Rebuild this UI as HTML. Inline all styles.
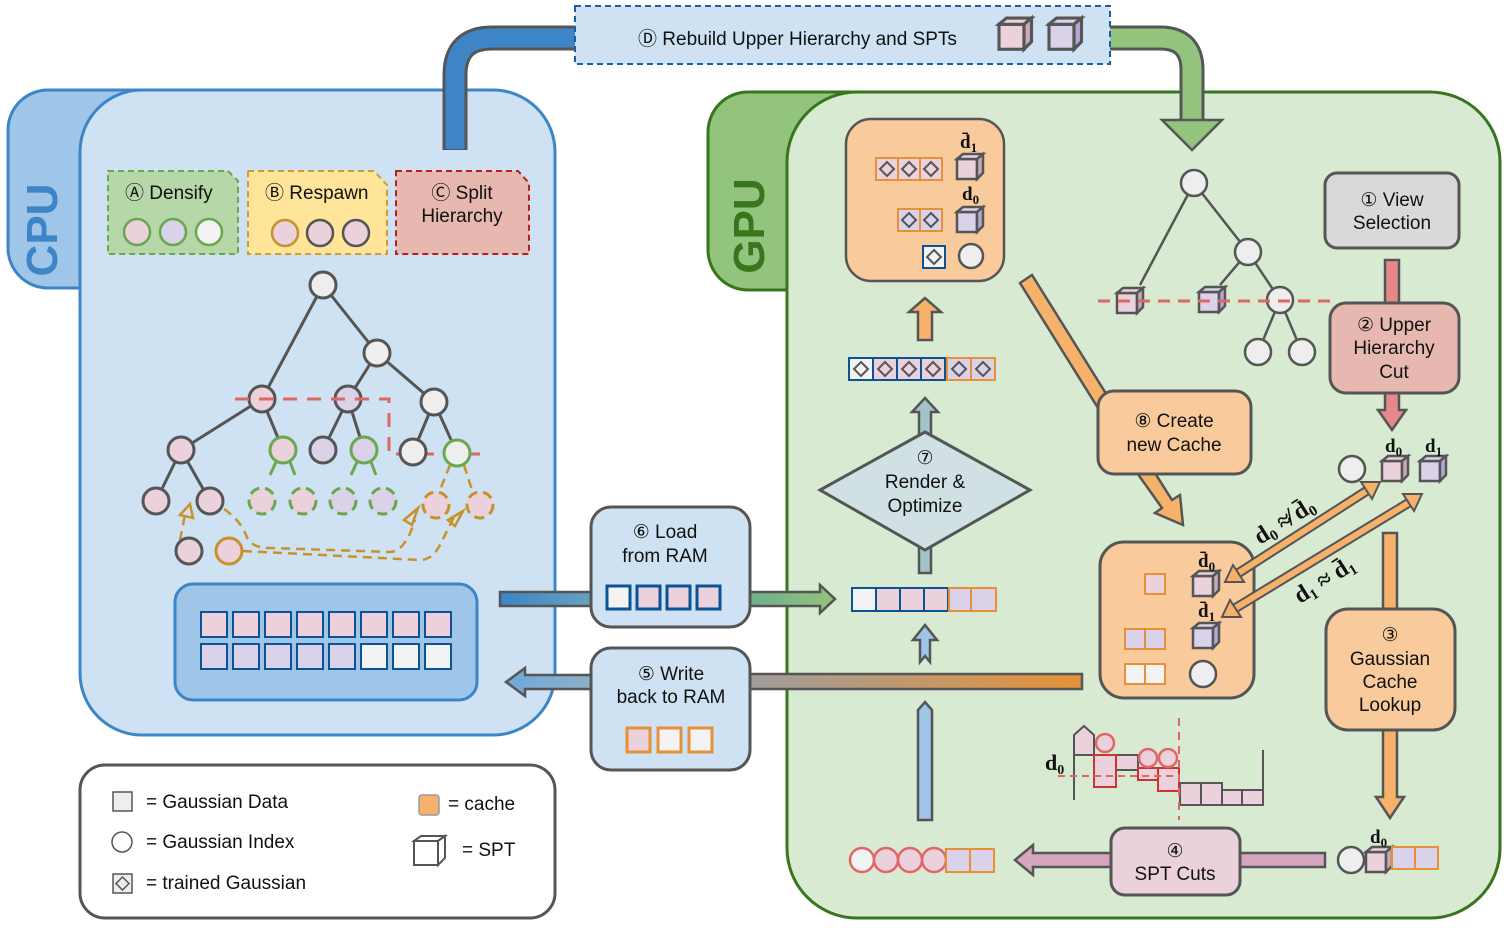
<!DOCTYPE html>
<html><head><meta charset="utf-8"><style>
html,body{margin:0;padding:0;background:#fff}
svg{display:block}
text{font-family:"Liberation Sans",sans-serif;font-size:19px;fill:#111}
.m{font-family:"Liberation Serif",serif;font-weight:bold;font-size:19px}
</style></head><body>
<svg width="1507" height="928" viewBox="0 0 1507 928" xmlns="http://www.w3.org/2000/svg">
<defs>
<g id="cp"><rect x="0" y="5" width="20" height="20" fill="#ead1dc" stroke="#555" stroke-width="2.5"/><polygon points="0,5 6,0 26,0 20,5" fill="#ead1dc" stroke="#555" stroke-width="2.5"/><polygon points="20,5 26,0 26,19 20,25" fill="#c9a9b8" stroke="#555" stroke-width="2.5"/></g>
<g id="cl"><rect x="0" y="5" width="20" height="20" fill="#d9d2e9" stroke="#555" stroke-width="2.5"/><polygon points="0,5 6,0 26,0 20,5" fill="#d9d2e9" stroke="#555" stroke-width="2.5"/><polygon points="20,5 26,0 26,19 20,25" fill="#b4a7d6" stroke="#555" stroke-width="2.5"/></g>
<g id="cw"><rect x="0" y="5" width="24" height="24" fill="#fff" stroke="#555" stroke-width="2"/><polygon points="0,5 7,0 31,0 24,5" fill="#fff" stroke="#555" stroke-width="2"/><polygon points="24,5 31,0 31,22 24,29" fill="#fff" stroke="#555" stroke-width="2"/></g>
<linearGradient id="g1" x1="0" x2="1"><stop offset="0" stop-color="#3d85c6"/><stop offset="1" stop-color="#6aa1c0"/></linearGradient>
<linearGradient id="g2" x1="0" x2="1"><stop offset="0" stop-color="#6fae8a"/><stop offset="1" stop-color="#93c47d"/></linearGradient>
<linearGradient id="g3" x1="0" x2="1"><stop offset="0" stop-color="#9e9e9e"/><stop offset="1" stop-color="#e69138"/></linearGradient>
<linearGradient id="g4" x1="0" x2="1"><stop offset="0" stop-color="#6fa8dc"/><stop offset="1" stop-color="#8fb0c8"/></linearGradient>
</defs>

<!-- CPU -->
<rect x="8" y="90" width="200" height="198" rx="40" fill="#9fc5e8" stroke="#3d85c6" stroke-width="3"/>
<rect x="80" y="90" width="475" height="645" rx="62" fill="#cfe2f3" stroke="#3d85c6" stroke-width="3"/>
<text x="0" y="0" transform="translate(57,230) rotate(-90)" text-anchor="middle" style="font-size:44px;font-weight:bold;fill:#3d85c6">CPU</text>

<!-- GPU -->
<rect x="708" y="92" width="200" height="198" rx="40" fill="#93c47d" stroke="#38761d" stroke-width="3"/>
<rect x="787" y="92" width="713" height="826" rx="70" fill="#d9ead3" stroke="#38761d" stroke-width="3"/>
<text x="0" y="0" transform="translate(764,226) rotate(-90)" text-anchor="middle" style="font-size:44px;font-weight:bold;fill:#38761d">GPU</text>

<!-- blue pipe -->
<path d="M455,150 V75 Q455,38 492,38 H578" fill="none" stroke="#555" stroke-width="25"/>
<path d="M455,149 V75 Q455,38 492,38 H578" fill="none" stroke="#3d85c6" stroke-width="19"/>
<!-- green pipe -->
<path d="M1108,38 H1160 Q1192,38 1192,70 V122" fill="none" stroke="#555" stroke-width="25"/>
<path d="M1108,38 H1160 Q1192,38 1192,70 V124" fill="none" stroke="#93c47d" stroke-width="19"/>
<polygon points="1162,120 1222,120 1192,150" fill="#93c47d" stroke="#555" stroke-width="2.5"/>

<!-- D box -->
<rect x="575" y="6" width="535" height="58" fill="#cfe2f3" stroke="#1c5fa0" stroke-width="2" stroke-dasharray="6,4"/>
<text x="638" y="45">Ⓓ Rebuild Upper Hierarchy and SPTs</text>
<g transform="translate(999,18) scale(1.25)"><use href="#cp"/></g>
<g transform="translate(1049,18) scale(1.25)"><use href="#cl"/></g>

<!-- A B C boxes -->
<path d="M108,171 H228 L238,181 V254 H108 Z" fill="#b6d7a8" stroke="#6aa84f" stroke-width="2" stroke-dasharray="6,4"/>
<text x="125" y="199">Ⓐ Densify</text>
<circle cx="137" cy="232" r="13" fill="#ead1dc" stroke="#6aa84f" stroke-width="2.5"/>
<circle cx="173" cy="232" r="13" fill="#d9d2e9" stroke="#6aa84f" stroke-width="2.5"/>
<circle cx="209" cy="232" r="13" fill="#f3f3f3" stroke="#6aa84f" stroke-width="2.5"/>
<path d="M248,171 H374 L387,185 V254 H248 Z" fill="#ffe599" stroke="#d19c2a" stroke-width="2" stroke-dasharray="6,4"/>
<text x="265" y="199">Ⓑ Respawn</text>
<circle cx="285" cy="233" r="13" fill="#ead1dc" stroke="#c9912a" stroke-width="2.5"/>
<circle cx="320" cy="233" r="13" fill="#ead1dc" stroke="#555" stroke-width="2.5"/>
<circle cx="356" cy="233" r="13" fill="#ead1dc" stroke="#555" stroke-width="2.5"/>
<path d="M396,171 H518 L529,183 V254 H396 Z" fill="#e6b8af" stroke="#b32020" stroke-width="2" stroke-dasharray="6,4"/>
<text x="462" y="199" text-anchor="middle">Ⓒ Split</text>
<text x="462" y="222" text-anchor="middle">Hierarchy</text>

<!-- CPU tree -->
<g stroke="#555" stroke-width="3" fill="none">
<path d="M323,285 L262,399 M323,285 L377,353 M377,353 L348,399 M377,353 L434,402 M262,399 L181,450 M262,399 L283,450 M348,399 L323,450 M348,399 L364,450 M434,402 L413,452 M434,402 L457,453 M181,450 L156,501 M181,450 L210,501"/>
</g>
<g stroke="#6aa84f" stroke-width="3" fill="none"><path d="M276,462 L270,475 M290,462 L295,475 M357,462 L351,475 M371,462 L376,475"/></g>
<g stroke="#c9912a" stroke-width="2.5" fill="none" stroke-dasharray="9,6">
<path d="M450,465 L440,490 M464,465 L472,490"/>
<path d="M224,509 Q240,520 246,535 Q250,548 270,548 L390,552 Q405,552 415,520"/>
<path d="M243,551 L420,560 Q432,560 440,545 L455,515"/>
<path d="M180,540 L185,515"/>
</g>
<polygon points="180,515 190,504 193,518" fill="none" stroke="#c9912a" stroke-width="2.5"/>
<polygon points="404,520 418,508 412,525" fill="none" stroke="#c9912a" stroke-width="2.5"/>
<polygon points="448,520 463,511 455,526" fill="none" stroke="#c9912a" stroke-width="2.5"/>
<path d="M235,399 H366 L389,399 V454 H480" fill="none" stroke="#e06666" stroke-width="3" stroke-dasharray="14,10"/>
<g stroke-width="3">
<circle cx="323" cy="285" r="13" fill="#eee" stroke="#555"/>
<circle cx="377" cy="353" r="13" fill="#eee" stroke="#555"/>
<circle cx="262" cy="399" r="13" fill="#ead1dc" stroke="#555"/>
<circle cx="348" cy="399" r="13" fill="#d9d2e9" stroke="#555"/>
<circle cx="434" cy="402" r="13" fill="#eee" stroke="#555"/>
<circle cx="181" cy="450" r="13" fill="#ead1dc" stroke="#555"/>
<circle cx="283" cy="450" r="13" fill="#ead1dc" stroke="#6aa84f"/>
<circle cx="323" cy="450" r="13" fill="#d9d2e9" stroke="#555"/>
<circle cx="364" cy="450" r="13" fill="#d9d2e9" stroke="#6aa84f"/>
<circle cx="413" cy="452" r="13" fill="#eee" stroke="#555"/>
<circle cx="457" cy="453" r="13" fill="#eee" stroke="#6aa84f"/>
<circle cx="156" cy="501" r="13" fill="#ead1dc" stroke="#555"/>
<circle cx="210" cy="501" r="13" fill="#ead1dc" stroke="#555"/>
<circle cx="262" cy="501" r="13" fill="#ead1dc" stroke="#6aa84f" stroke-dasharray="10,6"/>
<circle cx="303" cy="501" r="13" fill="#ead1dc" stroke="#6aa84f" stroke-dasharray="10,6"/>
<circle cx="343" cy="501" r="13" fill="#d9d2e9" stroke="#6aa84f" stroke-dasharray="10,6"/>
<circle cx="383" cy="501" r="13" fill="#d9d2e9" stroke="#6aa84f" stroke-dasharray="10,6"/>
<circle cx="436" cy="505" r="13" fill="#ead1dc" stroke="#c9912a" stroke-dasharray="10,6"/>
<circle cx="480" cy="505" r="13" fill="#ead1dc" stroke="#c9912a" stroke-dasharray="10,6"/>
<circle cx="189" cy="551" r="13" fill="#ead1dc" stroke="#555"/>
<circle cx="229" cy="551" r="13" fill="#ead1dc" stroke="#c9912a"/>
</g>
<path d="M235,399 H366" fill="none" stroke="#e06666" stroke-width="3" stroke-dasharray="14,10"/>

<!-- CPU memory -->
<rect x="175" y="584" width="302" height="116" rx="18" fill="#9fc5e8" stroke="#3d85c6" stroke-width="3"/>
<g stroke="#0b5394" stroke-width="2">
<rect x="201" y="612" width="26" height="25" fill="#ead1dc"/><rect x="233" y="612" width="26" height="25" fill="#ead1dc"/><rect x="265" y="612" width="26" height="25" fill="#ead1dc"/><rect x="297" y="612" width="26" height="25" fill="#ead1dc"/><rect x="329" y="612" width="26" height="25" fill="#ead1dc"/><rect x="361" y="612" width="26" height="25" fill="#ead1dc"/><rect x="393" y="612" width="26" height="25" fill="#ead1dc"/><rect x="425" y="612" width="26" height="25" fill="#ead1dc"/>
<rect x="201" y="644" width="26" height="25" fill="#d9d2e9"/><rect x="233" y="644" width="26" height="25" fill="#d9d2e9"/><rect x="265" y="644" width="26" height="25" fill="#d9d2e9"/><rect x="297" y="644" width="26" height="25" fill="#d9d2e9"/><rect x="329" y="644" width="26" height="25" fill="#d9d2e9"/><rect x="361" y="644" width="26" height="25" fill="#f3f3f3"/><rect x="393" y="644" width="26" height="25" fill="#f3f3f3"/><rect x="425" y="644" width="26" height="25" fill="#f3f3f3"/>
</g>

<!-- Load / write -->
<rect x="500" y="592" width="95" height="14" fill="url(#g1)" stroke="#555" stroke-width="2.5"/>
<path d="M748,592 H820 V585 L835,599 L820,613 V606 H748 Z" fill="url(#g2)" stroke="#555" stroke-width="2.5"/>
<rect x="745" y="674" width="337" height="15" fill="url(#g3)" stroke="#555" stroke-width="2.5"/>
<path d="M595,675 H525 V668 L506,682 L525,696 V689 H595 Z" fill="url(#g4)" stroke="#555" stroke-width="2.5"/>
<rect x="591" y="507" width="159" height="120" rx="20" fill="#cfe2f3" stroke="#555" stroke-width="3"/>
<text x="665" y="538" text-anchor="middle">⑥ Load</text>
<text x="665" y="562" text-anchor="middle">from RAM</text>
<g stroke="#0b5394" stroke-width="3"><rect x="607" y="586" width="23" height="23" fill="#f3f3f3"/><rect x="637" y="586" width="23" height="23" fill="#ead1dc"/><rect x="667" y="586" width="23" height="23" fill="#ead1dc"/><rect x="697" y="586" width="23" height="23" fill="#ead1dc"/></g>
<rect x="591" y="648" width="159" height="122" rx="20" fill="#cfe2f3" stroke="#555" stroke-width="3"/>
<text x="671" y="680" text-anchor="middle">⑤ Write</text>
<text x="671" y="703" text-anchor="middle">back to RAM</text>
<g stroke="#e69138" stroke-width="3"><rect x="627" y="728" width="23" height="24" fill="#ead1dc"/><rect x="658" y="728" width="23" height="24" fill="#f3f3f3"/><rect x="689" y="728" width="23" height="24" fill="#f3f3f3"/></g>

<!-- legend -->
<rect x="80" y="765" width="475" height="153" rx="25" fill="#fff" stroke="#555" stroke-width="3"/>
<rect x="113" y="792" width="19" height="19" fill="#eee" stroke="#555" stroke-width="1.5"/>
<text x="146" y="808">= Gaussian Data</text>
<circle cx="122" cy="842" r="10" fill="#fff" stroke="#555" stroke-width="1.5"/>
<text x="146" y="848">= Gaussian Index</text>
<rect x="113" y="874" width="19" height="19" fill="#eee" stroke="#555" stroke-width="1.5"/>
<polygon points="122.5,877 129,883.5 122.5,890 116,883.5" fill="none" stroke="#555" stroke-width="1.5"/>
<text x="146" y="889">= trained Gaussian</text>
<rect x="419" y="795" width="20" height="20" rx="3" fill="#f6b26b" stroke="#999" stroke-width="1.5"/>
<text x="448" y="810">= cache</text>
<use href="#cw" x="414" y="836"/>
<text x="462" y="856">= SPT</text>

<!-- GPU top cache box -->
<rect x="846" y="119" width="158" height="162" rx="25" fill="#f9cb9c" stroke="#555" stroke-width="2.5"/>
<text class="m" x="960" y="148">d̄<tspan font-size="13" dy="4">1</tspan></text>
<g stroke="#e69138" stroke-width="2"><rect x="876" y="158" width="22" height="22" fill="#ead1dc"/><rect x="898" y="158" width="22" height="22" fill="#ead1dc"/><rect x="920" y="158" width="22" height="22" fill="#ead1dc"/>
<rect x="898" y="209" width="22" height="22" fill="#d9d2e9"/><rect x="920" y="209" width="22" height="22" fill="#d9d2e9"/></g>
<rect x="923" y="246" width="22" height="22" fill="#f3f3f3" stroke="#0b5394" stroke-width="2"/>
<g fill="none" stroke="#555" stroke-width="2"><polygon points="887,162 894,169 887,176 880,169"/><polygon points="909,162 916,169 909,176 902,169"/><polygon points="931,162 938,169 931,176 924,169"/><polygon points="909,213 916,220 909,227 902,220"/><polygon points="931,213 938,220 931,227 924,220"/><polygon points="934,250 941,257 934,264 927,257"/></g>
<use href="#cp" x="957" y="154"/>
<text class="m" x="962" y="200">d<tspan font-size="13" dy="4">0</tspan></text>
<use href="#cl" x="957" y="207"/>
<circle cx="971" cy="256" r="12" fill="#eee" stroke="#555" stroke-width="2.5"/>

<!-- orange up arrow -->
<path d="M918,340 V312 H909 L925,298 L941,312 H932 V340 Z" fill="#f6b26b" stroke="#555" stroke-width="2.5"/>
<!-- array 2 -->
<g stroke-width="2"><rect x="849" y="358" width="24" height="22" fill="#f3f3f3" stroke="#0b5394"/><rect x="873" y="358" width="24" height="22" fill="#ead1dc" stroke="#0b5394"/><rect x="897" y="358" width="24" height="22" fill="#ead1dc" stroke="#0b5394"/><rect x="921" y="358" width="24" height="22" fill="#ead1dc" stroke="#0b5394"/><rect x="947" y="358" width="24" height="22" fill="#d9d2e9" stroke="#e69138"/><rect x="971" y="358" width="24" height="22" fill="#d9d2e9" stroke="#e69138"/></g>
<g fill="none" stroke="#555" stroke-width="2"><polygon points="861,362 868,369 861,376 854,369"/><polygon points="885,362 892,369 885,376 878,369"/><polygon points="909,362 916,369 909,376 902,369"/><polygon points="933,362 940,369 933,376 926,369"/><polygon points="959,362 966,369 959,376 952,369"/><polygon points="983,362 990,369 983,376 976,369"/></g>
<!-- teal arrow -->
<path d="M919,440 V412 H912 L925,398 L938,412 H931 V440 Z" fill="#a2c4c9" stroke="#555" stroke-width="2.5"/>
<rect x="919" y="545" width="12" height="28" fill="#a2c4c9" stroke="#555" stroke-width="2.5"/>
<polygon points="925,432 1030,490 925,550 820,490" fill="#d0e0e3" stroke="#555" stroke-width="3"/>
<text x="925" y="464" text-anchor="middle">⑦</text>
<text x="925" y="488" text-anchor="middle">Render &amp;</text>
<text x="925" y="512" text-anchor="middle">Optimize</text>
<!-- array 3 -->
<g stroke-width="2"><rect x="852" y="588" width="24" height="23" fill="#f3f3f3" stroke="#0b5394"/><rect x="876" y="588" width="24" height="23" fill="#ead1dc" stroke="#0b5394"/><rect x="900" y="588" width="24" height="23" fill="#ead1dc" stroke="#0b5394"/><rect x="924" y="588" width="24" height="23" fill="#ead1dc" stroke="#0b5394"/><rect x="949" y="588" width="22" height="23" fill="#d9d2e9" stroke="#e69138"/><rect x="971" y="588" width="25" height="23" fill="#d9d2e9" stroke="#e69138"/></g>
<path d="M920,662 V640 H913 L925,625 L937,640 H930 V662 L925,656 Z" fill="#9fc5e8" stroke="#555" stroke-width="2.5"/>
<path d="M918,820 V710 L925,702 L932,710 V820 Z" fill="#9fc5e8" stroke="#555" stroke-width="2.5"/>
<!-- bottom circles row -->
<g stroke="#e06666" stroke-width="2.5"><circle cx="862" cy="860" r="12" fill="#f3f3f3"/><circle cx="886" cy="860" r="12" fill="#ead1dc"/><circle cx="910" cy="860" r="12" fill="#ead1dc"/><circle cx="934" cy="860" r="12" fill="#ead1dc"/></g>
<g stroke="#e69138" stroke-width="2"><rect x="946" y="849" width="24" height="23" fill="#d9d2e9"/><rect x="970" y="849" width="24" height="23" fill="#d9d2e9"/></g>
<path d="M1115,853 H1033 V845 L1015,860 L1033,875 V867 H1115 Z" fill="#d5a6bd" stroke="#555" stroke-width="2.5"/>
<rect x="1236" y="853" width="89" height="14" fill="#d5a6bd" stroke="#555" stroke-width="2.5"/>
<rect x="1111" y="828" width="129" height="67" rx="14" fill="#ead1dc" stroke="#555" stroke-width="3"/>
<text x="1175" y="857" text-anchor="middle">④</text>
<text x="1175" y="880" text-anchor="middle">SPT Cuts</text>
<circle cx="1351" cy="860" r="13" fill="#eee" stroke="#555" stroke-width="2.5"/>
<use href="#cp" x="1366" y="847"/>
<text class="m" x="1370" y="843">d<tspan font-size="13" dy="4">0</tspan></text>
<g stroke="#e69138" stroke-width="2"><rect x="1392" y="847" width="23" height="22" fill="#d9d2e9"/><rect x="1415" y="847" width="23" height="22" fill="#d9d2e9"/></g>

<!-- histogram -->
<g stroke="#555" stroke-width="2" fill="#ead1dc">
<path d="M1074,800 V735 L1084,726 L1094,735 V755 H1074" />
<rect x="1116" y="755" width="22" height="15"/>
<rect x="1180" y="783" width="21" height="22"/><rect x="1201" y="783" width="21" height="22"/><rect x="1222" y="790" width="20" height="15"/><rect x="1242" y="790" width="21" height="15"/>
<path d="M1263,750 V805" fill="none"/>
</g>
<g stroke="#cc3333" stroke-width="2" fill="#ead1dc"><rect x="1094" y="755" width="22" height="32"/><rect x="1138" y="768" width="20" height="12"/><rect x="1158" y="768" width="21" height="23"/></g>
<g stroke="#e06666" stroke-width="2.5" fill="#ead1dc"><circle cx="1105" cy="743" r="9"/><circle cx="1148" cy="758" r="9"/><circle cx="1168" cy="758" r="9"/></g>
<path d="M1058,776 H1180" stroke="#e06666" stroke-width="2" stroke-dasharray="7,5"/>
<path d="M1179,718 V820" stroke="#e06666" stroke-width="2" stroke-dasharray="8,6"/>
<text class="m" x="1045" y="770" style="font-size:22px">d<tspan font-size="14" dy="4">0</tspan></text>

<!-- Gaussian Cache Lookup -->
<rect x="1383" y="533" width="14" height="80" fill="#f6b26b" stroke="#555" stroke-width="2.5"/>
<path d="M1383,726 V797 H1376 L1390,818 L1404,797 H1397 V726 Z" fill="#f6b26b" stroke="#555" stroke-width="2.5"/>
<rect x="1326" y="609" width="129" height="121" rx="22" fill="#f9cb9c" stroke="#555" stroke-width="3"/>
<text x="1390" y="641" text-anchor="middle">③</text>
<text x="1390" y="665" text-anchor="middle">Gaussian</text>
<text x="1390" y="688" text-anchor="middle">Cache</text>
<text x="1390" y="711" text-anchor="middle">Lookup</text>

<!-- View selection / upper -->
<rect x="1385" y="260" width="14" height="46" fill="#e6888a" stroke="#555" stroke-width="2.5"/>
<path d="M1385,390 V410 H1378 L1392,430 L1406,410 H1399 V390 Z" fill="#e6888a" stroke="#555" stroke-width="2.5"/>
<rect x="1325" y="173" width="134" height="75" rx="12" fill="#d9d9d9" stroke="#555" stroke-width="3"/>
<text x="1392" y="206" text-anchor="middle">① View</text>
<text x="1392" y="229" text-anchor="middle">Selection</text>
<rect x="1330" y="303" width="129" height="90" rx="16" fill="#e6b8af" stroke="#555" stroke-width="3"/>
<text x="1394" y="331" text-anchor="middle">② Upper</text>
<text x="1394" y="354" text-anchor="middle">Hierarchy</text>
<text x="1394" y="378" text-anchor="middle">Cut</text>

<!-- GPU tree -->
<g stroke="#555" stroke-width="2.5"><path d="M1194,183 L1140,285 M1194,183 L1248,252 M1248,252 L1220,285 M1248,252 L1280,300 M1280,300 L1258,352 M1280,300 L1302,352"/></g>
<use href="#cp" x="1117" y="288"/>
<use href="#cl" x="1199" y="287"/>
<g stroke="#555" stroke-width="2.5" fill="#eee"><circle cx="1194" cy="183" r="13"/><circle cx="1248" cy="252" r="13"/><circle cx="1280" cy="300" r="13"/><circle cx="1258" cy="352" r="13"/><circle cx="1302" cy="352" r="13"/></g>
<path d="M1098,301 H1335" stroke="#e06666" stroke-width="3" stroke-dasharray="12,8"/>

<!-- right top items -->
<circle cx="1352" cy="469" r="13" fill="#eee" stroke="#555" stroke-width="2.5"/>
<use href="#cp" x="1382" y="456"/>
<use href="#cl" x="1420" y="456"/>
<text class="m" x="1385" y="452">d<tspan font-size="13" dy="4">0</tspan></text>
<text class="m" x="1425" y="452">d<tspan font-size="13" dy="4">1</tspan></text>

<!-- Create new cache -->
<path d="M1020,283 L1032,275 L1110,400 L1098,408 Z" fill="#f6b26b" stroke="#555" stroke-width="2.5"/>
<path d="M1135,470 L1148,462 L1172,500 L1180,495 L1183,525 L1155,513 L1162,508 Z" fill="#f6b26b" stroke="#555" stroke-width="2.5"/>
<rect x="1098" y="391" width="153" height="83" rx="16" fill="#f9cb9c" stroke="#555" stroke-width="3"/>
<text x="1174" y="427" text-anchor="middle">⑧ Create</text>
<text x="1174" y="451" text-anchor="middle">new Cache</text>

<!-- cache box -->
<rect x="1100" y="542" width="154" height="156" rx="24" fill="#f9cb9c" stroke="#555" stroke-width="3"/>
<rect x="1145" y="574" width="20" height="20" fill="#ead1dc" stroke="#e69138" stroke-width="2"/>
<g stroke="#e69138" stroke-width="2"><rect x="1125" y="629" width="20" height="20" fill="#d9d2e9"/><rect x="1145" y="629" width="20" height="20" fill="#d9d2e9"/><rect x="1125" y="664" width="20" height="20" fill="#f3f3f3"/><rect x="1145" y="664" width="20" height="20" fill="#f3f3f3"/></g>
<use href="#cp" x="1193" y="571"/>
<use href="#cl" x="1193" y="623"/>
<circle cx="1203" cy="674" r="13" fill="#eee" stroke="#555" stroke-width="2.5"/>
<text class="m" x="1198" y="567">d̄<tspan font-size="13" dy="4">0</tspan></text>
<text class="m" x="1198" y="617">d̄<tspan font-size="13" dy="4">1</tspan></text>

<!-- double arrows -->
<path d="M1237,574 L1368,490" stroke="#555" stroke-width="10"/>
<path d="M1237,574 L1368,490" stroke="#f6b26b" stroke-width="6"/>
<path d="M1234,609 L1410,502" stroke="#555" stroke-width="10"/>
<path d="M1234,609 L1410,502" stroke="#f6b26b" stroke-width="6"/>
<g fill="#f6b26b" stroke="#555" stroke-width="2">
<polygon points="1380,482 1372,499 1361,482"/>
<polygon points="1225,582 1244,582 1233,565"/>
<polygon points="1422,494 1414,511 1403,494"/>
<polygon points="1222,617 1241,617 1230,600"/>
</g>
<text class="m" x="0" y="0" transform="translate(1260,545) rotate(-32)" style="font-size:24px">d<tspan font-size="15" dy="4">0</tspan><tspan dy="-4"> ≉ d̄</tspan><tspan font-size="15" dy="4">0</tspan></text>
<text class="m" x="0" y="0" transform="translate(1300,604) rotate(-32)" style="font-size:24px">d<tspan font-size="15" dy="4">1</tspan><tspan dy="-4"> ≈ d̄</tspan><tspan font-size="15" dy="4">1</tspan></text>
</svg>
</body></html>
